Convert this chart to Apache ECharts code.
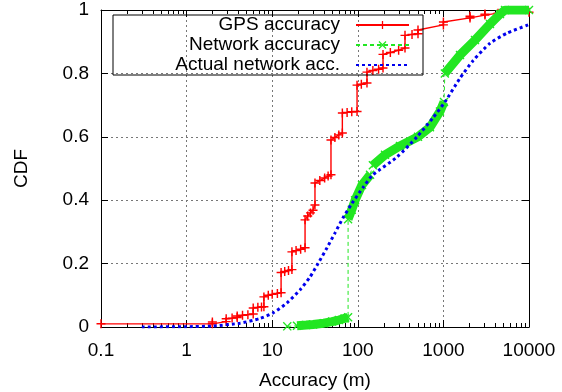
<!DOCTYPE html>
<html>
<head>
<meta charset="utf-8">
<script src="https://cdn.jsdelivr.net/npm/echarts@6/dist/echarts.min.js"></script>
<style>
html,body{margin:0;padding:0;background:#fff;}
#chart{width:562px;height:392px;}
</style>
</head>
<body>
<div id="chart"></div>
<script>
// ---- data ----
const seriesNames = ['GPS accuracy', 'Network accuracy', 'Actual network acc.'];

const gpsPts = [[0.1,0.01],[2,0.01],[2,0.016],[2.9,0.017],[2.9,0.026],[3.4,0.028],[3.9,0.03],[3.9,0.035],[4.5,0.037],[5.2,0.039],[6,0.041],[6,0.06],[6.8,0.062],[7.5,0.063],[8,0.064],[8,0.095],[9,0.1],[10,0.103],[11.5,0.106],[12.7,0.108],[12.7,0.172],[14,0.175],[15.5,0.178],[17,0.181],[17,0.237],[19,0.241],[21.5,0.245],[24.2,0.25],[24.2,0.338],[26,0.35],[28,0.36],[30,0.368],[31.6,0.385],[31.6,0.454],[36,0.462],[41,0.47],[45,0.476],[48.6,0.48],[48.6,0.59],[54,0.598],[60,0.606],[66,0.612],[66,0.675],[75,0.677],[85,0.679],[98,0.68],[98,0.763],[110,0.766],[128,0.77],[128,0.804],[150,0.809],[175,0.813],[197,0.817],[197,0.86],[240,0.866],[300,0.873],[356,0.88],[356,0.92],[430,0.923],[505,0.925],[505,0.937],[1000,0.953],[1000,0.962],[2046,0.975],[2046,0.98],[3060,0.984],[3060,0.987],[4345,0.99],[10000,0.993]];

const netFirst = [[15,0.002]];
const netBand1 = [[19.5,0.004],[25,0.006],[30,0.008],[40,0.012],[50,0.017],[60,0.022],[70,0.027],[77,0.031]];
const netBand2 = [[77,0.34],[85,0.37],[93,0.40],[112,0.448],[139,0.48]];
const netBand3 = [[150,0.51],[208,0.543],[311,0.571],[505,0.6],[697,0.63],[912,0.68],[1016,0.71]];
const netBand4 = [[1040,0.8],[1563,0.858],[2340,0.905],[3502,0.956],[4586,0.987],[5245,1.0],[10000,1.0]];

const actualPts = [[0.3,0],[1,0.001],[2,0.003],[4.2,0.012],[7.2,0.027],[10.2,0.044],[14.9,0.076],[21.1,0.117],[27.7,0.158],[34.3,0.2],[43.7,0.25],[54.2,0.297],[67.1,0.344],[85.5,0.39],[115,0.44],[150,0.48],[287,0.536],[492,0.6],[756,0.66],[1043,0.71],[1563,0.785],[2218,0.84],[3502,0.895],[5534,0.927],[9770,0.953],[10000,0.954]];

const xMin = 0.1, xMax = 10000;
const yTicks = [0, 0.2, 0.4, 0.6, 0.8, 1];
const minorXTicks = [0.2,0.3,0.4,0.5,0.6,0.7,0.8,0.9,2,3,4,5,6,7,8,9,20,30,40,50,60,70,80,90,200,300,400,500,600,700,800,900,2000,3000,4000,5000,6000,7000,8000,9000];

// ---- styling ----
const FONT = 'Liberation Sans, Arial, Helvetica, sans-serif';
const RED = '#ff0000', GREEN = '#22e622', BLUE = '#0000ee';
const PLUS = 'path://M4.2,0H5.8V4.2H10V5.8H5.8V10H4.2V5.8H0V4.2H4.2Z';
const CROSS = 'path://M0,1.1L1.1,0L5,3.9L8.9,0L10,1.1L6.1,5L10,8.9L8.9,10L5,6.1L1.1,10L0,8.9L3.9,5Z';
const MINOR_LEN = 4;

const netSegments = [netFirst, netBand1, netBand2, netBand3, netBand4];
const netAll = [].concat(...netSegments);
const bandData = [];
netSegments.forEach((seg, i) => { if (i > 0) bandData.push('-'); seg.forEach(p => bandData.push(p)); });

const gridStyle = { show: true, lineStyle: { color: '#777', width: 1, type: [2, 3] } };
const fmt = v => String(+(+v).toPrecision(6));

function renderMinorTick(params, api) {
  const x = api.value(0);
  const b = api.coord([x, yTicks[0]]);
  const t = api.coord([x, yTicks[yTicks.length - 1]]);
  const st = { stroke: '#000', lineWidth: 1 };
  const px = Math.round(b[0]) + 0.5;
  return {
    type: 'group',
    children: [
      { type: 'line', shape: { x1: px, y1: b[1], x2: px, y2: b[1] - MINOR_LEN }, style: st },
      { type: 'line', shape: { x1: px, y1: t[1], x2: px, y2: t[1] + MINOR_LEN }, style: st }
    ]
  };
}

const chart = echarts.init(document.getElementById('chart'), null, { renderer: 'canvas' });
chart.setOption({
  animation: false,
  backgroundColor: '#fff',
  textStyle: { fontFamily: FONT },
  grid: { left: 101, right: 33, top: 10, bottom: 65, containLabel: false, outerBoundsMode: 'none' },
  legend: {
    data: [
      { name: seriesNames[0] },
      { name: seriesNames[1] },
      { name: seriesNames[2], itemStyle: { color: 'rgba(0,0,0,0)', borderWidth: 0 } }
    ],
    orient: 'vertical',
    left: 113, top: 15,
    align: 'right',
    itemGap: 0,
    itemWidth: 53,
    itemHeight: 10,
    padding: [0, 13, 0, 8],
    borderColor: '#000',
    borderWidth: 1,
    backgroundColor: 'transparent',
    textStyle: { fontFamily: FONT, fontSize: 19, color: '#000', width: 219, align: 'right', padding: [0, 11, 0, 0], lineHeight: 20 }
  },
  xAxis: [
    {
      type: 'log', logBase: 10, min: xMin, max: xMax, position: 'bottom',
      axisLine: { show: true, onZero: false, lineStyle: { color: '#000', width: 1 } },
      axisTick: { show: true, inside: true, length: 7, lineStyle: { color: '#000' } },
      axisLabel: { fontFamily: FONT, fontSize: 19, color: '#000', margin: 14, formatter: fmt },
      splitLine: gridStyle,
      name: 'Accuracy (m)', nameLocation: 'middle', nameGap: 44,
      nameTextStyle: { fontFamily: FONT, fontSize: 19, color: '#000' }
    },
    {
      type: 'log', logBase: 10, min: xMin, max: xMax, position: 'top',
      axisLine: { show: true, onZero: false, lineStyle: { color: '#000', width: 1 } },
      axisTick: { show: true, inside: true, length: 7, lineStyle: { color: '#000' } },
      axisLabel: { show: false }, splitLine: { show: false }
    }
  ],
  yAxis: [
    {
      type: 'value', min: yTicks[0], max: yTicks[yTicks.length - 1], interval: 0.2, position: 'left',
      axisLine: { show: true, onZero: false, lineStyle: { color: '#000', width: 1 } },
      axisTick: { show: true, inside: true, length: 7, lineStyle: { color: '#000' } },
      axisLabel: { fontFamily: FONT, fontSize: 19, color: '#000', margin: 12, formatter: fmt },
      splitLine: gridStyle,
      name: 'CDF', nameLocation: 'middle', nameGap: 70, nameRotate: 90,
      nameTextStyle: { fontFamily: FONT, fontSize: 19, color: '#000' }
    },
    {
      type: 'value', min: yTicks[0], max: yTicks[yTicks.length - 1], interval: 0.2, position: 'right',
      axisLine: { show: true, onZero: false, lineStyle: { color: '#000', width: 1 } },
      axisTick: { show: true, inside: true, length: 7, lineStyle: { color: '#000' } },
      axisLabel: { show: false }, splitLine: { show: false }
    }
  ],
  series: [
    {
      name: 'minorTicks', type: 'custom', xAxisIndex: 0, yAxisIndex: 0,
      data: minorXTicks.map(v => [v]), encode: { x: 0 },
      renderItem: renderMinorTick, silent: true, clip: false, z: 1
    },
    {
      name: seriesNames[0], type: 'line', data: gpsPts,
      symbol: PLUS, symbolSize: 9, showSymbol: true, showAllSymbol: true,
      lineStyle: { color: RED, width: 1.4 }, itemStyle: { color: RED },
      z: 3
    },
    {
      name: 'band', type: 'line', data: bandData, connectNulls: false,
      symbol: 'none', lineStyle: { color: GREEN, width: 9, cap: 'butt' },
      itemStyle: { color: GREEN }, z: 4, silent: true
    },
    {
      name: seriesNames[1], type: 'line', data: netAll,
      symbol: CROSS, symbolSize: 9, showSymbol: true, showAllSymbol: true,
      lineStyle: { color: GREEN, width: 1, type: [4, 3] }, itemStyle: { color: GREEN },
      z: 5
    },
    {
      name: seriesNames[2], type: 'line', data: actualPts, smooth: 0.2,
      symbol: 'none', showSymbol: false,
      lineStyle: { color: BLUE, width: 3, type: [3, 3], cap: 'butt' }, itemStyle: { color: BLUE },
      z: 6
    }
  ]
});
</script>
</body>
</html>
